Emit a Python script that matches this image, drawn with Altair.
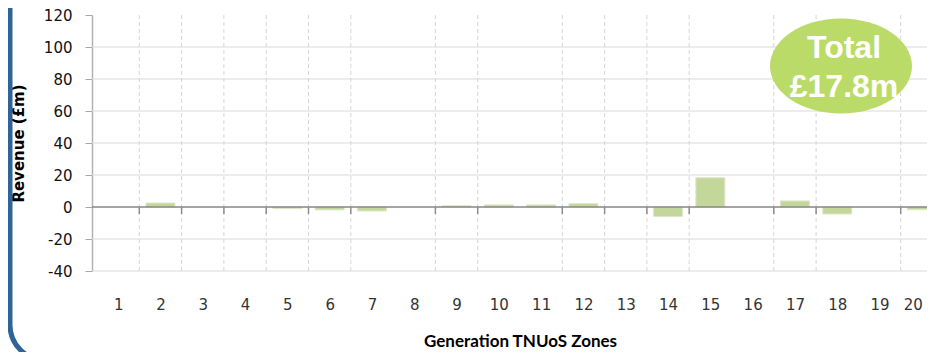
import altair as alt
import pandas as pd

# ---- data ----
zones = list(range(1, 21))
revenue = [0, 2.5, 0, 0, -1.0, -1.8, -2.5, 0, 0.8, 1.3,
           1.3, 2.1, 0, -6.0, 18.3, 0, 3.8, -4.4, 0, -1.7]
y_tick_values = [-40, -20, 0, 20, 40, 60, 80, 100, 120]
y_grid_values = [-40, -20, 20, 40, 60, 80, 100]
# zone boundaries (after these zones) that show a dashed vertical gridline
dashed_after_zones = [1, 2, 3, 4, 5, 6, 8, 9, 11, 12, 13, 14, 16, 17, 19]
total_text = ["Total", "£17.8m"]

W, H = 835, 256
STEP = 42.8

df = pd.DataFrame({"zone": zones, "revenue": revenue})
grid_df = pd.DataFrame({"v": y_grid_values})
dash_df = pd.DataFrame({"zone": dashed_after_zones})
text_df = pd.DataFrame({"t": ["\n".join(total_text)]})
one = alt.Data(values=[{}])

xscale = alt.Scale(domain=[0.5, 20.5], range=[0, STEP * 20], nice=False, zero=False)
yscale = alt.Scale(domain=[-40, 120], nice=False, zero=False)

x_axis = alt.Axis(
    values=zones, format="d", grid=False, domain=False, ticks=False,
    labelPadding=33, labelBaseline="middle", labelFont="DejaVu Sans",
    labelFontSize=15, labelColor="#333333",
    labelOffset=alt.condition("datum.value == 20", alt.value(-9), alt.value(0)),
    title="Generation TNUoS Zones", titleFont="Lato", titleFontSize=17,
    titleFontWeight="bold", titleColor="#000000", titleX=428, titleY=70,
    titleAlign="center", titleBaseline="middle",
)
y_axis = alt.Axis(
    values=y_tick_values, grid=False, domainColor="#b3b3b3", domainWidth=1.5,
    tickColor="#a6a6a6", tickSize=7, labelPadding=13,
    labelExpr="replace(datum.label, '\u2212', '-')",
    labelFont="DejaVu Sans", labelFontSize=15, labelColor="#111111",
    title="Revenue (£m)", titleFont="DejaVu Sans", titleFontSize=15,
    titleFontWeight="bold", titleColor="#000000", titleX=-74, titleY=H / 2,
    titleAngle=270, titleAlign="center", titleBaseline="middle",
)

hgrid = alt.Chart(grid_df).mark_rule(color="#d9d9d9", strokeWidth=1).encode(
    y=alt.Y("v:Q", scale=yscale, axis=None)
)

vgrid = alt.Chart(dash_df).mark_rule(
    color="#d6d6d6", strokeWidth=1, strokeDash=[4, 3]
).transform_calculate(b="datum.zone + 0.5").encode(
    x=alt.X("b:Q", scale=xscale, axis=None)
)

bars = alt.Chart(df).mark_bar(
    size=29, color="#c4d79b", stroke="#dde8c6", strokeWidth=1
).transform_filter("datum.revenue != 0").encode(
    x=alt.X("zone:Q", scale=xscale, axis=x_axis),
    y=alt.Y("revenue:Q", scale=yscale, axis=y_axis),
)

zero_line = alt.Chart(one).mark_rule(color="#868686", strokeWidth=1.5).encode(
    y=alt.YDatum(0, scale=yscale, axis=None)
)

zero_ticks = alt.Chart(dash_df).mark_rule(
    color="#8c8c8c", strokeWidth=1.5, y2Offset=7
).transform_calculate(b="datum.zone + 0.5").encode(
    x=alt.X("b:Q", scale=xscale, axis=None),
    y=alt.YDatum(0, scale=yscale, axis=None),
    y2=alt.datum(0),
)

frame = alt.Chart(one).mark_rect(
    fillOpacity=0, stroke="#2f6499", strokeWidth=5, cornerRadius=35, clip=False
).encode(
    x=alt.value(-82), x2=alt.value(900), y=alt.value(-40), y2=alt.value(345)
)

ellipse = alt.Chart(one).mark_point(
    shape="M-1,0A1,0.67,0,1,0,1,0A1,0.67,0,1,0,-1,0Z",
    size=142 * 142, filled=True, color="#badb68", opacity=1, clip=False
).encode(x=alt.value(749), y=alt.value(51))

total = alt.Chart(text_df).mark_text(
    font="Liberation Sans", fontWeight="bold", fontSize=32, color="#ffffff",
    align="center", baseline="alphabetic", lineBreak="\n", lineHeight=39
).encode(x=alt.value(752), y=alt.value(43), text="t:N")

chart = alt.layer(
    hgrid, vgrid, bars, zero_line, zero_ticks, frame, ellipse, total
).resolve_axis(
    x="independent", y="independent"
).properties(
    width=W, height=H,
    padding={"left": 84, "top": 7, "right": 0, "bottom": 81},
    autosize=alt.AutoSizeParams(type="none"),
    background="#ffffff",
).configure_view(stroke=None)

chart.save("out.html", embed_options={"renderer": "svg", "actions": False})
